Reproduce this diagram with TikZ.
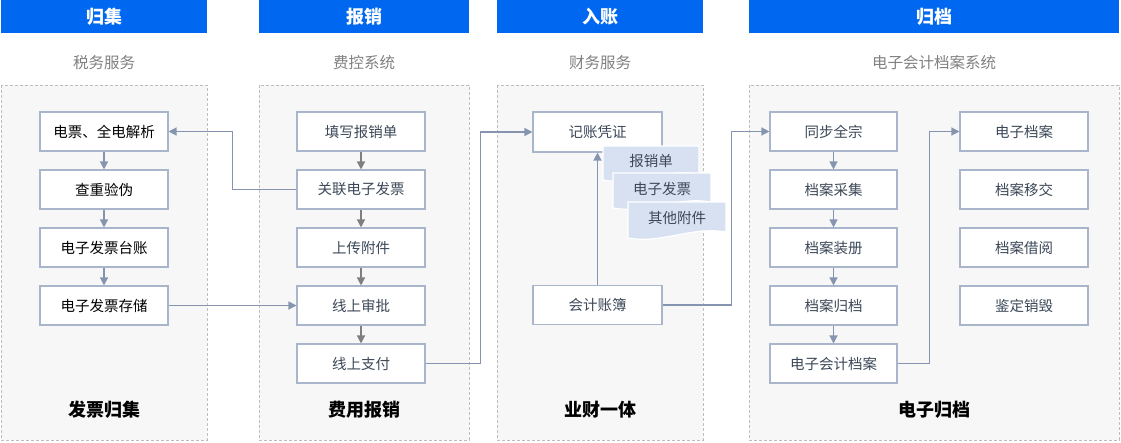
\documentclass[tikz,border=0pt]{standalone}
\usepackage{fontspec}
\setmainfont{Noto Sans CJK SC}
\usetikzlibrary{arrows.meta}

\definecolor{headblue}{HTML}{0068F0}
\definecolor{panelfill}{HTML}{F7F7F7}
\definecolor{panelline}{HTML}{BDBDBD}
\definecolor{boxline}{HTML}{A9B5CA}
\definecolor{flowblue}{HTML}{8595B0}
\definecolor{flowgray}{HTML}{7F7F7F}
\definecolor{boxtext}{HTML}{3C4858}
\definecolor{subtext}{HTML}{808080}
\definecolor{docfill}{HTML}{D8E1F1}

% one sheet of the paper stack, wavy bottom edge
\newcommand{\docsheet}[6]{%
  \path[fill=docfill,draw=white,line width=1.2pt]
    (#2,#3) -- (#4,#3) -- (#4,{#5-6})
    .. controls ({#2+0.65*(#4-#2)},{#5-12}) and ({#2+0.35*(#4-#2)},{#5+6}) .. (#2,#5) -- cycle;
  \node[doctext] (#1) at ({(#2+#4)/2},{(#3+#5)/2-2}) {#6};
}

\begin{document}
\begin{tikzpicture}[x=1pt,y=-1pt,
    panel/.style={draw=panelline,fill=panelfill,line width=0.8pt,dash pattern=on 3pt off 2pt},
    head/.style={fill=headblue,text=white,inner sep=0pt,minimum height=33pt,
      font=\fontsize{18}{18}\selectfont\bfseries},
    sub/.style={text=subtext,font=\fontsize{15.5}{16}\selectfont},
    foot/.style={text=black,font=\fontsize{18}{18}\selectfont\bfseries},
    box/.style={draw=boxline,fill=white,line width=1.1pt,minimum width=128pt,
      minimum height=39pt,inner sep=0pt,text=boxtext,font=\fontsize{14.5}{16}\selectfont},
    doctext/.style={text=boxtext,font=\fontsize{14.5}{16}\selectfont},
    flow/.style={draw=flowblue,line width=1.3pt,-{Triangle[width=8pt,length=8pt]}},
    flowg/.style={flow,draw=flowgray}]
  \useasboundingbox (0,0) rectangle (1121,442);

  % columns: header, system name, panel, title
  \foreach \x/\w/\t/\s/\b [count=\i] in {1/206/归集/税务服务/发票归集,
      259/210/报销/费控系统/费用报销, 497/206/入账/财务服务/业财一体,
      749/370/归档/电子会计档案系统/电子归档} {
    \draw[panel] (\x,85) rectangle ++(\w,355);
    \node[head,minimum width=\w pt] (hd\i) at (\x+0.5*\w,16.5) {\t};
    \node[sub] (sb\i) at (\x+0.5*\w,63) {\s};
    \node[foot] (ft\i) at (\x+0.5*\w,410) {\b};
  }

  % boxes
  \foreach \t [count=\i] in {电票、全电解析,查重验伪,电子发票台账,电子发票存储}
    \node[box,text=black] (a\i) at (104,73.5+58*\i) {\t};
  \foreach \t [count=\i] in {填写报销单,关联电子发票,上传附件,线上审批,线上支付}
    \node[box] (b\i) at (361,73.5+58*\i) {\t};
  \node[box,minimum width=129pt,minimum height=40pt] (c1) at (597.5,132) {记账凭证};
  \node[box,minimum width=129pt] (c2) at (597.5,305) {会计账簿};
  \foreach \t [count=\i] in {同步全宗,档案采集,档案装册,档案归档,电子会计档案}
    \node[box,minimum width=127pt] (e\i) at (833.5,73.5+58*\i) {\t};
  \foreach \t [count=\i] in {电子档案,档案移交,档案借阅,鉴定销毁}
    \node[box] (f\i) at (1024,73.5+58*\i) {\t};

  % paper stack
  \docsheet{d1}{603}{146}{699}{180}{报销单}
  \docsheet{d2}{613}{173}{711}{208}{电子发票}
  \docsheet{d3}{628}{202}{726}{238}{其他附件}

  % connectors
  \foreach \i/\j in {1/2,2/3,3/4} \draw[flow] (a\i) -- (a\j);
  \foreach \i/\j in {1/2,2/3,3/4,4/5} \draw[flowg] (b\i) -- (b\j);
  \foreach \i/\j in {1/2,2/3,3/4,4/5} \draw[flow] (e\i) -- (e\j);
  \draw[flow] (b2.west) -- ++(-64,0) |- (a1.east);
  \draw[flow] (a4.east) -- (b4.west);
  \draw[flow] (b5.east) -- ++(55,0) |- (c1.west);
  \draw[flow] (c2.north) -- (c1.south);
  \draw[flow] (c2.east) -- ++(69,0) |- (e1.west);
  \draw[flow] (e5.east) -- ++(32,0) |- (f1.west);
\end{tikzpicture}
\end{document}
